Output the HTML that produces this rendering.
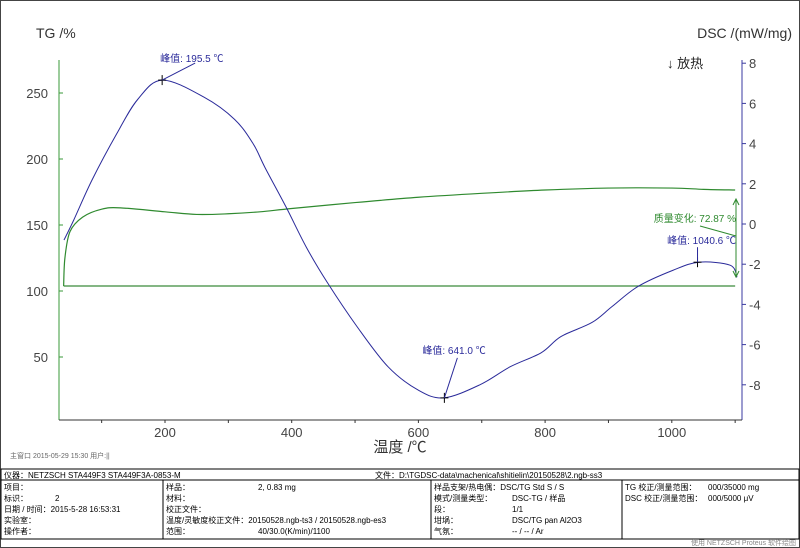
<!DOCTYPE html>
<html><head><meta charset="utf-8"><style>
html,body{margin:0;padding:0;background:#fff;}
svg{display:block;font-family:"Liberation Sans","Noto Sans CJK SC",sans-serif;}
</style></head><body>
<svg id="chart" width="800" height="548" viewBox="0 0 800 548">
<rect x="0.5" y="0.5" width="799" height="547" fill="#fff" stroke="#444"/>
<text x="36" y="38" font-size="14" fill="#333">TG /%</text>
<text x="792" y="38" font-size="14" fill="#333" text-anchor="end">DSC /(mW/mg)</text>
<text x="667" y="68" font-size="13" fill="#222">↓ 放热</text>
<text x="400" y="452" font-size="15" fill="#333" text-anchor="middle">温度 /℃</text>
<text x="10" y="458" font-size="7" fill="#666">主窗口  2015-05-29 15:30  用户:||</text>
<g id="axes"></g>
<g id="series"></g>
<g id="annot"></g>
<g font-size="8" fill="#000">
<rect x="1" y="469" width="798" height="70" fill="none" stroke="#000"/>
<line x1="1" y1="480" x2="799" y2="480" stroke="#000"/>
<line x1="163" y1="480" x2="163" y2="539" stroke="#000"/>
<line x1="431" y1="480" x2="431" y2="539" stroke="#000"/>
<line x1="622" y1="480" x2="622" y2="539" stroke="#000"/>
<text x="4" y="478">仪器：NETZSCH STA449F3 STA449F3A-0853-M</text>
<text x="375" y="478">文件：D:\TGDSC-data\machenical\shitielin\20150528\2.ngb-ss3</text>
<text x="4" y="490">项目：</text><text x="4" y="501">标识：</text><text x="55" y="501">2</text>
<text x="4" y="512">日期 / 时间：2015-5-28 16:53:31</text><text x="4" y="523">实验室：</text><text x="4" y="534">操作者：</text>
<text x="166" y="490">样品：</text><text x="258" y="490">2, 0.83 mg</text><text x="166" y="501">材料：</text>
<text x="166" y="512">校正文件：</text><text x="166" y="523">温度/灵敏度校正文件：20150528.ngb-ts3 / 20150528.ngb-es3</text>
<text x="166" y="534">范围：</text><text x="258" y="534">40/30.0(K/min)/1100</text>
<text x="434" y="490">样品支架/热电偶：DSC/TG Std S / S</text><text x="434" y="501">模式/测量类型：</text><text x="512" y="501">DSC-TG / 样品</text>
<text x="434" y="512">段：</text><text x="512" y="512">1/1</text><text x="434" y="523">坩埚：</text><text x="512" y="523">DSC/TG pan Al2O3</text>
<text x="434" y="534">气氛：</text><text x="512" y="534">-- / -- / Ar</text>
<text x="625" y="490">TG 校正/测量范围：</text><text x="708" y="490">000/35000 mg</text>
<text x="625" y="501">DSC 校正/测量范围：</text><text x="708" y="501">000/5000 μV</text>
<text x="796" y="545" font-size="7" fill="#888" text-anchor="end">使用 NETZSCH Proteus 软件绘图</text>
</g>
</svg>
<script>
const xTicks=[200,400,600,800,1000];
const tgTicks=[50,100,150,200,250];
const dscTicks=[8,6,4,2,0,-2,-4,-6,-8];
const tgTemps=[40,42,50,70,100,130,200,250,300,350,400,500,600,700,800,900,1000,1050,1100];
const tgValues=[103.8,125,145,156,162,163,160,158,158.5,160,162.5,167,171,174,176.5,178,178,177,176.5];
const tgBaseline=[103.8];
const dscTemps=[40.5,56,85,124,157,196,262,310,339,358,391,423,456,503,552,599,640,697,745,794,825,874,906,947,1002,1043,1092,1103];
const dscValues=[-0.8,0.2,2.2,4.5,6.2,7.16,6.3,5.2,4.0,2.8,0.85,-1.15,-2.9,-5.1,-7.1,-8.25,-8.65,-8.0,-7.1,-6.4,-5.6,-4.9,-4.1,-3.1,-2.3,-1.9,-2.05,-2.65];
const peaks=[{t:195.5,v:7.16,label:"峰值: 195.5 ℃"},{t:641.0,v:-8.65,label:"峰值: 641.0 ℃"},{t:1040.6,v:-1.9,label:"峰值: 1040.6 ℃"}];
const massChange=["质量变化: 72.87 %"];

const X=t=>38.3+t*0.6335;
const YL=v=>291-(v-100)*1.32;
const YR=v=>224-v*20.1;
const NS="http://www.w3.org/2000/svg";
function mk(tag,parent,attrs){const e=document.createElementNS(NS,tag);for(const k in attrs)e.setAttribute(k,attrs[k]);parent.appendChild(e);return e;}
function smooth(pts){let d='M'+pts[0][0]+','+pts[0][1];
for(let i=0;i<pts.length-1;i++){const p0=pts[Math.max(0,i-1)],p1=pts[i],p2=pts[i+1],p3=pts[Math.min(pts.length-1,i+2)];
const c1x=p1[0]+(p2[0]-p0[0])/6,c1y=p1[1]+(p2[1]-p0[1])/6,c2x=p2[0]-(p3[0]-p1[0])/6,c2y=p2[1]-(p3[1]-p1[1])/6;
d+=' C'+c1x+','+c1y+' '+c2x+','+c2y+' '+p2[0]+','+p2[1];}return d;}
const axes=document.getElementById('axes'),series=document.getElementById('series'),annot=document.getElementById('annot');
let e;
e=mk('line',axes,{x1:59,y1:60,x2:59,y2:420,stroke:'#3a9a3a'});


e=mk('line',axes,{x1:742,y1:60,x2:742,y2:420,stroke:'#3a3aa0'});


e=mk('line',axes,{x1:59,y1:420,x2:742,y2:420,stroke:'#333'});


for(let t=100;t<=1100;t+=100){mk('line',axes,{x1:X(t),y1:420,x2:X(t),y2:423,stroke:'#333'});}
xTicks.forEach(t=>{e=mk('text',axes,{x:X(t),y:437,'font-size':13,fill:'#444','text-anchor':'middle'});e.textContent=t;

});
tgTicks.forEach(v=>{mk('line',axes,{x1:59,y1:YL(v),x2:63,y2:YL(v),stroke:'#3a9a3a'});
e=mk('text',axes,{x:48,y:YL(v)+5,'font-size':13,fill:'#444','text-anchor':'end'});e.textContent=v;

});
dscTicks.forEach(v=>{mk('line',axes,{x1:742,y1:YR(v),x2:746,y2:YR(v),stroke:'#3a3aa0'});
e=mk('text',axes,{x:749,y:YR(v)+5,'font-size':13,fill:'#444'});e.textContent=v;

});
e=mk('line',series,{x1:X(40),y1:YL(tgBaseline[0]),x2:X(1100),y2:YL(tgBaseline[0]),stroke:'#3a8a3a','stroke-width':1.2});


e=mk('path',series,{d:smooth(tgTemps.map((t,i)=>[X(t),YL(tgValues[i])])),fill:'none',stroke:'#2f8a2f','stroke-width':1.2});


e=mk('path',series,{d:smooth(dscTemps.map((t,i)=>[X(t),YR(dscValues[i])])),fill:'none',stroke:'#2a2a9a','stroke-width':1});


peaks.forEach((p,i)=>{const px=X(p.t),py=YR(p.v);
mk('line',annot,{x1:px-4,y1:py,x2:px+4,y2:py,stroke:'#000'});mk('line',annot,{x1:px,y1:py-5,x2:px,y2:py+5,stroke:'#000'});
let lx,ly,tx,ty,anchor='start';
if(i==0){lx=px+33;ly=py-17;tx=px-2;ty=py-18;}else if(i==1){lx=px+13;ly=py-40;tx=px-22;ty=py-44;}else{lx=px;ly=py-15;tx=736;ty=py-18;anchor='end';}
mk('line',annot,{x1:px,y1:py,x2:lx,y2:ly,stroke:'#2a2a9a'});
e=mk('text',annot,{x:tx,y:ty,'font-size':10,fill:'#2a2a9a','text-anchor':anchor});e.textContent=p.label;

});
mk('line',annot,{x1:736,y1:199,x2:736,y2:277,stroke:'#2f8a2f'});
mk('path',annot,{d:'M733,205 L736,199 L739,205 M733,271 L736,277 L739,271',fill:'none',stroke:'#2f8a2f'});
mk('line',annot,{x1:700,y1:226,x2:736,y2:236,stroke:'#2f8a2f'});
e=mk('text',annot,{x:736,y:222,'font-size':10,fill:'#2f8a2f','text-anchor':'end'});e.textContent=massChange[0];


</script>
</body></html>
